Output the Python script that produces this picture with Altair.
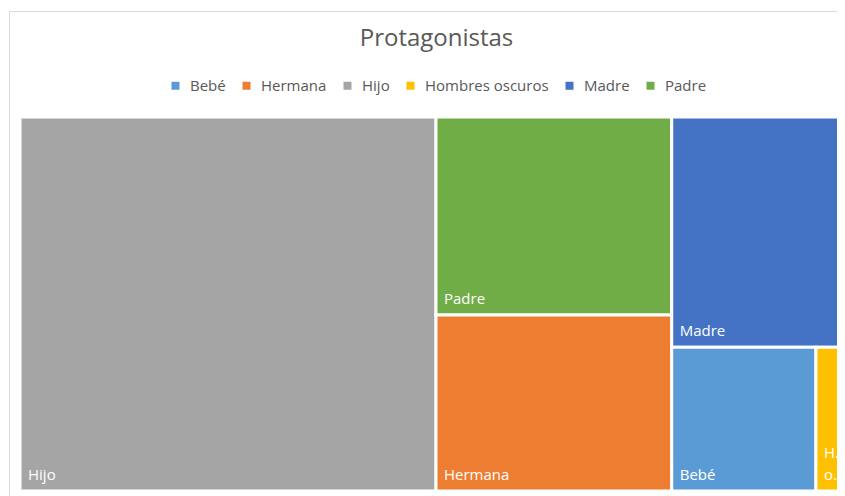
import altair as alt
import pandas as pd

# ---- data ----
names = ["Bebé", "Hermana", "Hijo", "Hombres oscuros", "Madre", "Padre"]
values = [4, 8, 30, 1, 8, 9]
colors = ["#5B9BD5", "#ED7D31", "#A5A5A5", "#FFC000", "#4472C4", "#70AD47"]
title_text = "Protagonistas"

# treemap layout area (units == pixels); the reference crops its right edge
TREE_W, TREE_H = 832, 374
VIEW_W, VIEW_H = 817, 374


def worst(row, side):
    s = sum(row)
    return max(max(side * side * r / (s * s), (s * s) / (side * side * r)) for r in row)


def squarify(areas, x, y, dx, dy):
    out = []
    vals = list(areas)
    while vals:
        short = min(dx, dy)
        row = [vals[0]]
        i = 1
        while i < len(vals) and worst(row + [vals[i]], short) <= worst(row, short):
            row.append(vals[i])
            i += 1
        s = sum(row)
        if dx >= dy:
            w = s / dy
            cy = y
            for r in row:
                h = r / w
                out.append((x, x + w, cy, cy + h))
                cy += h
            x += w
            dx -= w
        else:
            h = s / dx
            cx = x
            for r in row:
                w = r / h
                out.append((cx, cx + w, y, y + h))
                cx += w
            y += h
            dy -= h
        vals = vals[i:]
    return out


total = sum(values)
order = sorted(range(len(names)), key=lambda i: -values[i])
areas = [values[i] * TREE_W * TREE_H / total for i in order]
boxes = squarify(areas, 0, 0, TREE_W, TREE_H)
rows = []
for i, (x0, x1, y0, y1) in zip(order, boxes):
    rows.append(dict(name=names[i], value=values[i], x0=x0, x1=x1, y0=y0, y1=y1))
df = pd.DataFrame(rows)

xs = alt.Scale(domain=[0, VIEW_W], nice=False, zero=False)
ys = alt.Scale(domain=[0, VIEW_H], nice=False, zero=False, reverse=True)

base = alt.Chart(df)

tiles = base.mark_rect(stroke="white", strokeWidth=3, clip=True).encode(
    x=alt.X("x0:Q", scale=xs, axis=None),
    x2="x1:Q",
    y=alt.Y("y0:Q", scale=ys, axis=None),
    y2="y1:Q",
    color=alt.Color(
        "name:N",
        scale=alt.Scale(domain=names, range=colors),
        legend=alt.Legend(
            title=None,
            orient="none",
            legendX=148,
            legendY=-39,
            direction="horizontal",
            symbolType="square",
            symbolSize=64,
            symbolStrokeWidth=0,
            labelFont="Open Sans",
            labelFontSize=15,
            labelColor="#595959",
            labelOffset=7,
            columnPadding=13,
            padding=0,
            labelLimit=400,
        ),
    ),
    tooltip=["name:N", "value:Q"],
)

labels = base.mark_text(
    align="left",
    baseline="bottom",
    dx=8,
    dy=alt.expr("-8.5 - 22 * (length(split(datum.name, ' ')) - 1)"),
    color="white",
    font="Open Sans",
    fontSize=15,
    lineBreak=" ",
    lineHeight=22,
    limit=alt.expr("datum.x1 - datum.x0 - 12"),
    clip=True,
).encode(
    x=alt.X("x0:Q", scale=xs, axis=None),
    y=alt.Y("y1:Q", scale=ys, axis=None),
    text="name:N",
)

border = alt.Chart(pd.DataFrame({"k": [0]})).mark_rect(
    fill="transparent", stroke="#d9d9d9", strokeWidth=1
).encode(
    x=alt.value(-10.5), x2=alt.value(1000), y=alt.value(-105.5), y2=alt.value(1000)
)

chart = alt.layer(border, tiles, labels).properties(
    width=VIEW_W,
    height=VIEW_H,
    autosize=alt.AutoSizeParams(type="none"),
    padding={"left": 12, "top": 109, "right": 0, "bottom": 5},
    title=alt.Title(
        title_text,
        frame="group",
        anchor="middle",
        dx=8,
        offset=-59,
        baseline="alphabetic",
        font="Open Sans",
        fontSize=24,
        fontWeight="normal",
        color="#595959",
    ),
).configure_view(strokeWidth=0)

chart.save("out.html", embed_options={"renderer": "svg", "actions": False})
